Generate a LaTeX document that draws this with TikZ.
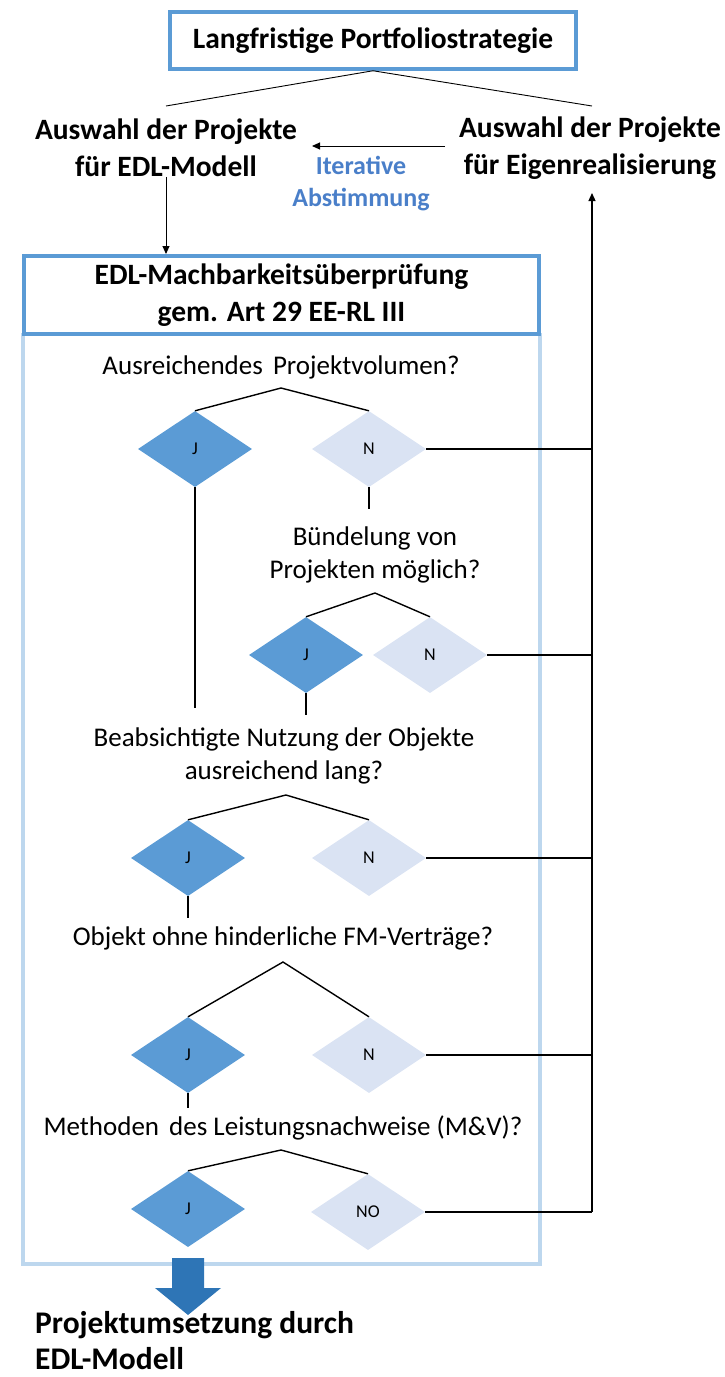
\documentclass[tikz,border=0pt]{standalone}
\usepackage{fontspec}
\setmainfont{Carlito}
\usetikzlibrary{shapes.geometric,arrows.meta}
\definecolor{boxblue}{HTML}{5B9BD5}
\definecolor{framelight}{HTML}{BDD7EE}
\definecolor{diaJ}{HTML}{5B9BD5}
\definecolor{diaN}{HTML}{DAE3F3}
\definecolor{itblue}{HTML}{4A7FC9}
\definecolor{bigarrow}{HTML}{2E75B6}

\begin{document}
\begin{tikzpicture}[x=1pt,y=-1pt,
  head/.style={font=\fontsize{29.5}{36.5}\selectfont\bfseries, align=center, inner sep=0pt},
  question/.style={font=\fontsize{27}{33}\selectfont, align=center, inner sep=0pt},
  yesdia/.style={diamond, fill=diaJ, minimum width=114pt, minimum height=76pt, inner sep=0pt, font=\fontsize{18}{20}\selectfont},
  nodia/.style={yesdia, fill=diaN},
  link/.style={draw=black, line width=1.4pt},
  thinlink/.style={draw=black, line width=0.9pt},
  flow/.style={draw=black, line width=1pt, -{Triangle[length=8pt,width=7pt]}},
]
\useasboundingbox (0,0) rectangle (725,1377);

% strategy box and the two selection groups
\node[head, draw=boxblue, line width=3.5pt, minimum width=406pt, minimum height=57pt] (lp) at (373,40.5) {Langfristige Portfoliostrategie};
\node[head] (edl) at (166,148) {Auswahl der Projekte\\für EDL-Modell};
\node[head] (eig) at (590,148) {Auswahl der Projekte\\für Eigenrealisierung};
\coordinate (lpL) at (166,106);
\coordinate (lpR) at (592,106);
\draw[thinlink] (lpL) -- (lp.south) -- (lpR);

% iterative alignment between both selections
\coordinate (itR) at (445,146);
\coordinate (itL) at (312,146);
\draw[flow] (itR) -- (itL);
\node[font=\fontsize{26}{32}\selectfont\bfseries, text=itblue, align=center, inner sep=0pt] (iter) at (361,184) {Iterative\\Abstimmung};

% feasibility frame
\draw[framelight, line width=4.5pt] (23,333) -- (23,1264) -- (540,1264) -- (540,333);
\node[head, draw=boxblue, line width=4pt, fill=white, minimum width=515pt, minimum height=78pt] (mach) at (281.5,295) {EDL-Machbarkeitsüberprüfung\\gem. Art 29 EE-RL III};
\draw[flow] (edl.south) -- (edl.south |- mach.north);

% questions
\node[question] (q1) at (281,367) {Ausreichendes\hspace{4pt} Projektvolumen?};
\node[question] (q2) at (375,555) {Bündelung von\\Projekten möglich?};
\node[question] (q3) at (284,756) {Beabsichtigte Nutzung der Objekte\\ausreichend lang?};
\node[question] (q4) at (283,938) {Objekt ohne hinderliche FM-Verträge?};
\node[question] (q5) at (283,1128) {Methoden\hspace{4pt} des Leistungsnachweise (M\&V)?};

% answers
\node[yesdia] (j1) at (195,449) {J};
\node[nodia]  (n1) at (369,449) {N};
\node[yesdia] (j2) at (306,655) {J};
\node[nodia]  (n2) at (430,655) {N};
\node[yesdia] (j3) at (188,858) {J};
\node[nodia]  (n3) at (369,858) {N};
\node[yesdia] (j4) at (188,1055) {J};
\node[nodia]  (n4) at (369,1055) {N};
\node[yesdia] (j5) at (188,1209) {J};
\node[nodia]  (n5) at (368,1212) {NO};

% branch forks under each question
\coordinate (a1) at (281,388);
\coordinate (a2) at (375,593);
\coordinate (a3) at (286,795);
\coordinate (a4) at (283,962);
\coordinate (a5) at (281,1150);
\draw[link] (j1.north) -- (a1) -- (n1.north);
\draw[link] (j2.north) -- (a2) -- (n2.north);
\draw[link] (j3.north) -- (a3) -- (n3.north);
\draw[link] (j4.north) -- (a4) -- (n4.north);
\draw[link] (j5.north) -- (a5) -- (n5.north);

% continuation stubs
\coordinate (j1e) at (195,708);
\coordinate (n1e) at (369,509);
\coordinate (j2e) at (306,715);
\coordinate (j3e) at (188,918);
\coordinate (j4e) at (188,1108);
\draw[link] (j1.south) -- (j1e);
\draw[link] (n1.south) -- (n1e);
\draw[link] (j2.south) -- (j2e);
\draw[link] (j3.south) -- (j3e);
\draw[link] (j4.south) -- (j4e);

% rejections lead back to own realisation
\coordinate (bus) at (592,1212);
\coordinate (eigbot) at (592,193);
\draw[link] (n1.east) -- (n1.east -| bus);
\draw[link] (n2.east) -- (n2.east -| bus);
\draw[link] (n3.east) -- (n3.east -| bus);
\draw[link] (n4.east) -- (n4.east -| bus);
\draw[link] (n5.east) -- (bus);
\draw[flow, line width=1.3pt] (bus) -- (eigbot);

% result
\fill[bigarrow] (172,1258) -- (204,1258) -- (204,1288) -- (221,1288) -- (188,1315) -- (155,1288) -- (172,1288) -- cycle;
\node[font=\fontsize{31.5}{36}\selectfont\bfseries, align=left, inner sep=0pt, anchor=west] (res) at (35,1341) {Projektumsetzung durch\\EDL-Modell};
\end{tikzpicture}
\end{document}
